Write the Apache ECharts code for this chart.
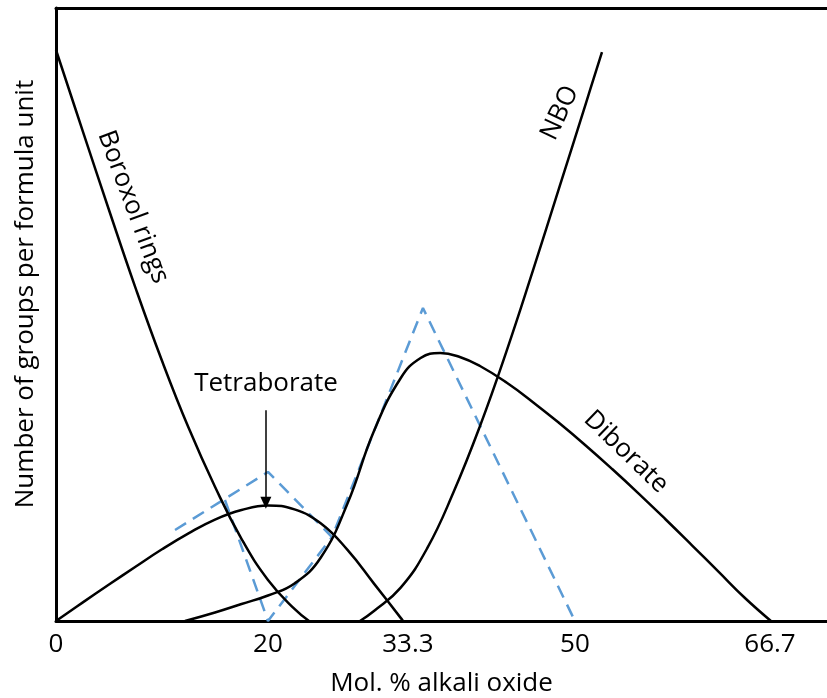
<!DOCTYPE html>
<html>
<head>
<meta charset="utf-8">
<script src="https://cdn.jsdelivr.net/npm/echarts@6/dist/echarts.min.js"></script>
<style>html,body{margin:0;padding:0;background:#fff}#c{width:827px;height:698px}</style>
</head>
<body>
<div id="c"></div>
<script>
// Schematic x positions (axis units), y in relative units (0-100)
const tickPositions = [0, 20, 33.2, 48.96, 67.36];
const tickLabels = ['0', '20', '33.3', '50', '66.7'];

const boroxolX = [0, 2.5, 5, 7.5, 10, 12.5, 15, 17.5, 20, 22.5, 23.87];
const boroxolY = [93.15, 80.05, 67.05, 54.35, 42.45, 31.55, 21.9, 13.4, 6.7, 1.96, 0];

const tetraX = [0, 2.5, 5, 7.5, 10, 12.5, 15, 17.5, 20, 22.5, 25, 27.5, 30, 32.5, 32.74];
const tetraY = [0, 3.0, 5.95, 8.85, 11.7, 14.3, 16.55, 18.1, 18.85, 18.2, 15.9, 11.6, 6.1, 0.55, 0];

const diborX = [12.17, 15, 17.5, 20, 22.5, 25, 27.5, 30, 32.5, 34.4, 36.25, 38.1, 40, 42.5, 45, 47.5, 50, 52.5, 55, 57.5, 60, 62.5, 65, 67.45];
const diborY = [0, 1.39, 2.77, 4.16, 6.12, 10.4, 19.17, 31.0, 39.56, 42.9, 43.72, 43.07, 41.6, 38.9, 35.7, 32.25, 28.6, 24.75, 20.75, 16.6, 12.35, 8.05, 3.75, 0];

const nboX = [28.68, 30, 32.5, 35, 37.5, 40, 42.5, 45, 47.5, 50, 51.51];
const nboY = [0, 1.63, 5.4, 11.8, 21.0, 31.8, 44.0, 57.2, 70.8, 84.5, 92.82];

const dashAX = [11.23, 20, 26.04, 34.62, 48.96];
const dashAY = [14.85, 24.31, 13.70, 51.06, 0];
const dashBX = [15.94, 20, 26.04];
const dashBY = [19.74, 0, 13.70];

const arrowX = 19.8;
const arrowFromY = 34.4;
const arrowToY = 19.3;

const zip = (xs, ys) => xs.map((x, i) => [x, ys[i]]);
const FONT = 'Open Sans';
const FS = 26;

const chart = echarts.init(document.getElementById('c'), null, {renderer: 'canvas'});
const solid = (name, xs, ys) => ({
  type: 'line', name, data: zip(xs, ys), smooth: 0.45, showSymbol: false, symbol: 'none',
  lineStyle: {color: '#000', width: 2.5}, z: 3, animation: false
});
const dashed = (name, xs, ys) => ({
  type: 'line', name, data: zip(xs, ys), smooth: false, showSymbol: false, symbol: 'none',
  lineStyle: {color: '#5B9BD5', width: 2.5, type: [13, 8]}, z: 2, animation: false
});

chart.setOption({
  animation: false,
  grid: {left: 56, top: 8, right: 0, bottom: 77, containLabel: false, outerBoundsMode: 'none'},
  xAxis: [{
    type: 'value', min: 0, max: 72.74, position: 'bottom',
    axisLine: {show: true, onZero: false, lineStyle: {color: '#000', width: 3}},
    axisTick: {show: false},
    splitLine: {show: false},
    axisLabel: {
      customValues: tickPositions,
      formatter: v => { const i = tickPositions.findIndex(t => Math.abs(t - v) < 1e-6); return i >= 0 ? tickLabels[i] : ''; },
      color: '#000', fontSize: FS, fontFamily: FONT, margin: 11
    },
    name: 'Mol. % alkali oxide', nameLocation: 'middle', nameGap: 50,
    nameTextStyle: {color: '#000', fontSize: FS, fontFamily: FONT}
  }, {
    type: 'value', min: 0, max: 72.74, position: 'top',
    axisLine: {show: true, onZero: false, lineStyle: {color: '#000', width: 3}},
    axisTick: {show: false}, axisLabel: {show: false}, splitLine: {show: false}
  }],
  yAxis: {
    type: 'value', min: 0, max: 100,
    axisLine: {show: true, onZero: false, lineStyle: {color: '#000', width: 3}},
    axisTick: {show: false}, axisLabel: {show: false}, splitLine: {show: false}
  },
  series: [
    dashed('dashA', dashAX, dashAY),
    dashed('dashB', dashBX, dashBY),
    solid('Boroxol rings', boroxolX, boroxolY),
    Object.assign(solid('Tetraborate', tetraX, tetraY), {
      markLine: {
        silent: true, symbol: ['none', 'triangle'], symbolSize: [11, 12], symbolRotate: 180,
        label: {show: false},
        lineStyle: {color: '#000', width: 1.5, type: 'solid'},
        data: [[{coord: [arrowX, arrowFromY]}, {coord: [arrowX, arrowToY]}]]
      }
    }),
    solid('Diborate', diborX, diborY),
    solid('NBO', nboX, nboY)
  ],
  graphic: [
    {type: 'text', x: 26, y: 294, rotation: Math.PI / 2,
     style: {text: 'Number of groups per formula unit', fill: '#000', font: FS + 'px "' + FONT + '"', align: 'center', verticalAlign: 'middle'}},
    {type: 'text', x: 266, y: 384,
     style: {text: 'Tetraborate', fill: '#000', font: FS + 'px "' + FONT + '"', align: 'center', verticalAlign: 'middle'}},
    {type: 'text', x: 133, y: 207, rotation: -69.5 * Math.PI / 180,
     style: {text: 'Boroxol rings', fill: '#000', font: FS + 'px "' + FONT + '"', align: 'center', verticalAlign: 'middle'}},
    {type: 'text', x: 560, y: 113, rotation: 65 * Math.PI / 180,
     style: {text: 'NBO', fill: '#000', font: FS + 'px "' + FONT + '"', align: 'center', verticalAlign: 'middle'}},
    {type: 'text', x: 626, y: 452, rotation: -44 * Math.PI / 180,
     style: {text: 'Diborate', fill: '#000', font: FS + 'px "' + FONT + '"', align: 'center', verticalAlign: 'middle'}}
  ]
});
</script>
</body>
</html>
